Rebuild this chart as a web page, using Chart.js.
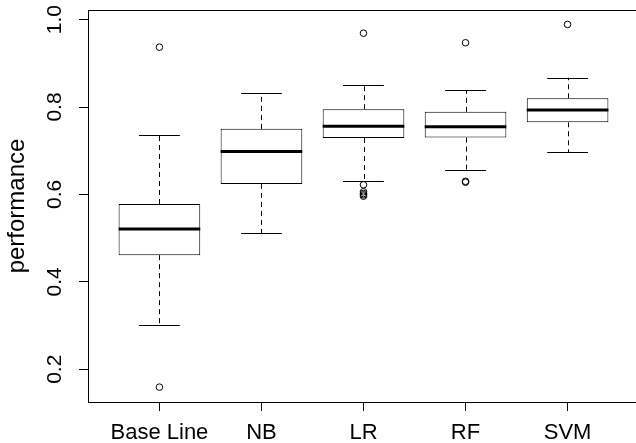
<!DOCTYPE html>
<html lang="en">
<head>
<meta charset="UTF-8">
<title>Performance by model</title>
<style>
  html, body { margin: 0; padding: 0; background: #fff; overflow: hidden; }
  #wrap { width: 645px; height: 443px; }
</style>
</head>
<body>
<div id="wrap"><canvas id="myChart" width="645" height="443"></canvas></div>
<script src="https://cdn.jsdelivr.net/npm/chart.js"></script>
<script>
// box statistics
const categories = ['Base Line', 'NB', 'LR', 'RF', 'SVM'];
const lowerWhisker = [0.302, 0.511, 0.630, 0.656, 0.697];
const q1 = [0.461, 0.624, 0.729, 0.730, 0.765];
const median = [0.521, 0.698, 0.756, 0.755, 0.793];
const q3 = [0.578, 0.750, 0.795, 0.789, 0.820];
const upperWhisker = [0.735, 0.832, 0.850, 0.838, 0.867];
const outliers = [
    [0.937, 0.159],
    [],
    [0.969, 0.622, 0.606, 0.602, 0.599, 0.596],
    [0.947, 0.630, 0.628],
    [0.989]
];
const yTicks = [0.2, 0.4, 0.6, 0.8, 1.0];
const yMin = 0.125, yMax = 1.022;
const yTitle = 'performance';

const boxWidth = 0.8;   // in category units
const capWidth = 0.4;

Chart.defaults.font.family = '"Liberation Sans", Arial, Helvetica, sans-serif';
Chart.defaults.color = '#000';

const boxData = categories.map((c, i) => ({ x: i + 1, y: [q1[i], q3[i]] }));
const outlierData = [];
outliers.forEach((vals, i) => vals.forEach(v => outlierData.push({ x: i + 1, y: v })));

// whiskers, caps, medians and the frame, drawn through the chart scales
const boxExtras = {
    id: 'boxExtras',
    afterDatasetsDraw(chart) {
        const ctx = chart.ctx;
        const xs = chart.scales.x, ys = chart.scales.y;
        ctx.save();
        ctx.strokeStyle = '#000';
        categories.forEach((c, i) => {
            const xc = Math.round(xs.getPixelForValue(i + 1)) + 0.5;
            const capL = xs.getPixelForValue(i + 1 - capWidth / 2);
            const capR = xs.getPixelForValue(i + 1 + capWidth / 2);
            const boxL = xs.getPixelForValue(i + 1 - boxWidth / 2);
            const boxR = xs.getPixelForValue(i + 1 + boxWidth / 2);
            // dashed whiskers
            ctx.lineWidth = 1;
            ctx.setLineDash([5, 4]);
            ctx.beginPath();
            ctx.moveTo(xc, ys.getPixelForValue(q3[i]));
            ctx.lineTo(xc, ys.getPixelForValue(upperWhisker[i]));
            ctx.moveTo(xc, ys.getPixelForValue(q1[i]));
            ctx.lineTo(xc, ys.getPixelForValue(lowerWhisker[i]));
            ctx.stroke();
            // caps
            ctx.setLineDash([]);
            ctx.beginPath();
            ctx.moveTo(capL, Math.round(ys.getPixelForValue(upperWhisker[i])) + 0.5);
            ctx.lineTo(capR, Math.round(ys.getPixelForValue(upperWhisker[i])) + 0.5);
            ctx.moveTo(capL, Math.round(ys.getPixelForValue(lowerWhisker[i])) + 0.5);
            ctx.lineTo(capR, Math.round(ys.getPixelForValue(lowerWhisker[i])) + 0.5);
            ctx.stroke();
            // median
            ctx.lineWidth = 3;
            ctx.beginPath();
            ctx.moveTo(boxL, ys.getPixelForValue(median[i]));
            ctx.lineTo(boxR, ys.getPixelForValue(median[i]));
            ctx.stroke();
        });
        const a = chart.chartArea;
        ctx.lineWidth = 1;
        ctx.strokeRect(Math.round(a.left) + 0.5, Math.round(a.top) + 0.5,
            Math.round(a.right - a.left), Math.round(a.bottom - a.top));
        ctx.restore();
    }
};

const ctx = document.getElementById('myChart').getContext('2d');
new Chart(ctx, {
    type: 'bar',
    data: {
        datasets: [{
            type: 'scatter',
            data: outlierData,
            pointStyle: 'circle',
            pointRadius: 3.3,
            pointBorderWidth: 1,
            pointBorderColor: '#000',
            pointBackgroundColor: 'rgba(0,0,0,0)'
        }, {
            data: boxData,
            backgroundColor: '#fff',
            borderColor: '#000',
            borderWidth: 1,
            borderSkipped: false,
            barPercentage: boxWidth,
            categoryPercentage: 1
        }]
    },
    options: {
        responsive: false,
        animation: false,
        devicePixelRatio: 1,
        layout: { padding: { top: 10, right: 6, left: 0, bottom: 0 } },
        plugins: { legend: { display: false }, tooltip: { enabled: false } },
        scales: {
            x: {
                type: 'linear',
                min: 0.3,
                max: 5.7,
                offset: false,
                afterBuildTicks: s => { s.ticks = categories.map((c, i) => ({ value: i + 1 })); },
                afterFit: s => { s.height = 41; s.paddingLeft = 0; s.paddingRight = 0; },
                ticks: {
                    autoSkip: false,
                    maxRotation: 0,
                    padding: 9,
                    font: { size: 22 },
                    callback: (v, i) => categories[i]
                },
                grid: { offset: false, drawOnChartArea: false, drawTicks: true, tickLength: 9, color: '#000' },
                border: { display: false }
            },
            y: {
                type: 'linear',
                min: yMin,
                max: yMax,
                afterBuildTicks: s => { s.ticks = yTicks.map(v => ({ value: v })); },
                afterFit: s => { s.width = 88; s.paddingTop = 0; s.paddingBottom = 0; },
                ticks: {
                    minRotation: 90,
                    maxRotation: 90,
                    crossAlign: 'center',
                    padding: 9,
                    font: { size: 21 },
                    callback: v => v.toFixed(1)
                },
                grid: { drawOnChartArea: false, drawTicks: true, tickLength: 9, color: '#000' },
                border: { display: false },
                title: { display: true, text: yTitle, font: { size: 24 }, padding: { top: 3 } }
            }
        }
    },
    plugins: [boxExtras]
});
</script>
</body>
</html>
